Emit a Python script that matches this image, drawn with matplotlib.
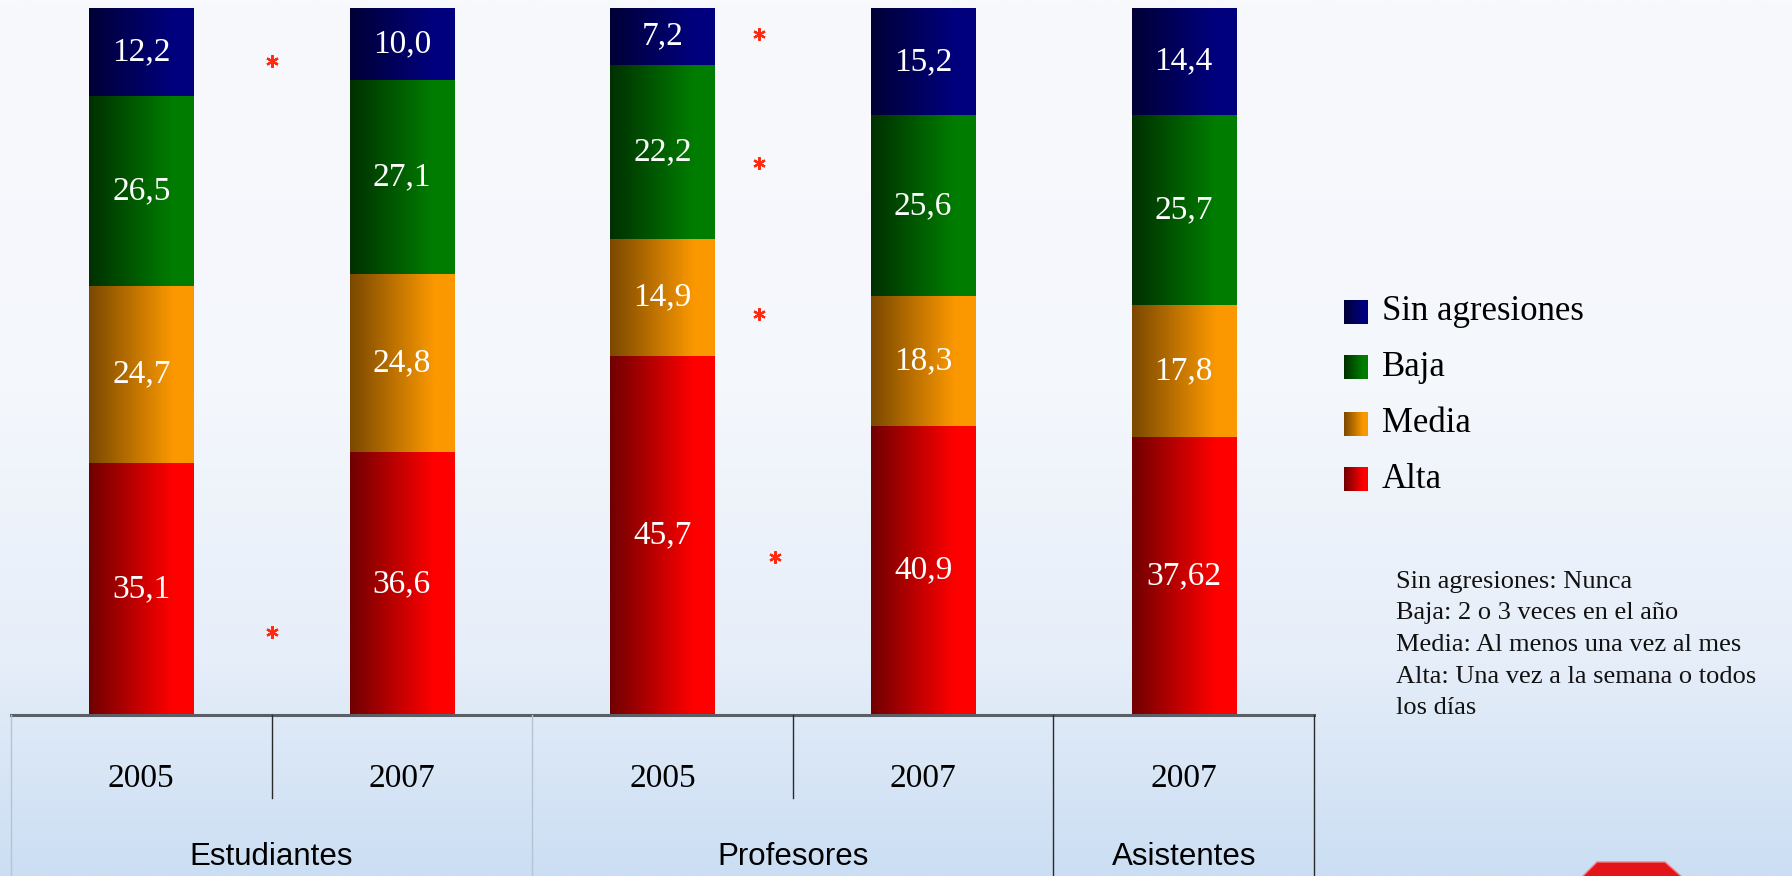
import numpy as np
import matplotlib
matplotlib.use("Agg")
import matplotlib.pyplot as plt
from matplotlib.colors import LinearSegmentedColormap
from matplotlib.patches import Polygon

# ---------------- data ----------------
groups = ["Estudiantes", "Profesores", "Asistentes"]
group_span = [(0, 1), (2, 3), (4, 4)]          # column indices of each group
years = ["2005", "2007", "2005", "2007", "2007"]
series = ["Sin agresiones", "Baja", "Media", "Alta"]
sin_agresiones = [12.2, 10.0, 7.2, 15.2, 14.4]
baja = [26.5, 27.1, 22.2, 25.6, 25.7]
media = [24.7, 24.8, 14.9, 18.3, 17.8]
alta = [35.1, 36.6, 45.7, 40.9, 37.62]
notes = ["Sin agresiones: Nunca",
         "Baja: 2 o 3 veces en el año",
         "Media: Al menos una vez al mes",
         "Alta: Una vez a la semana o todos",
         "los días"]
# significance markers (column position, percent height)
sig_x = [0.5, 0.5, 2.37, 2.37, 2.37, 2.43]
sig_y = [92.5, 11.7, 96.3, 78.1, 56.7, 22.3]

# ---------------- styles ----------------
dark = {"Sin agresiones": "#000036", "Baja": "#003000", "Media": "#7a4800", "Alta": "#700000"}
bright = {"Sin agresiones": "#00007e", "Baja": "#007d00", "Media": "#fb9800", "Alta": "#ff0000"}
SERIF = ["Liberation Serif", "DejaVu Serif"]
SANS = ["Liberation Sans", "DejaVu Sans"]

W, H = 1792, 876
fig = plt.figure(figsize=(W / 100, H / 100), dpi=100)

# background gradient
bg = fig.add_axes([0, 0, 1, 1], zorder=-10)
bg_cmap = LinearSegmentedColormap.from_list(
    "bg", [(0, "#f8f9fd"), (0.45, "#f4f7fc"), (0.75, "#e6eef9"), (1.0, "#cbdef3")])
bg.imshow(np.linspace(0, 1, 512).reshape(-1, 1), cmap=bg_cmap, aspect="auto",
          extent=[0, 1, 0, 1], origin="upper")
bg.set_xlim(0, 1); bg.set_ylim(0, 1); bg.axis("off")


def grad_cmap(name):
    return LinearSegmentedColormap.from_list(
        name, [(0, dark[name]), (0.8, bright[name]), (1, bright[name])])


gradient = np.linspace(0, 1, 256).reshape(1, -1)

# ---------------- main bars ----------------
left_px, right_px, top_px, base_px = 11, 1314, 8, 715
L = left_px / W
R = right_px / W
B = (H - base_px) / H
T = (H - top_px) / H
ax = fig.add_axes([L, B, R - L, T - B])
ax.patch.set_alpha(0)

raw = {"Sin agresiones": np.array(sin_agresiones), "Baja": np.array(baja),
       "Media": np.array(media), "Alta": np.array(alta)}
total = sum(raw.values())
x = np.arange(len(years))
bottom = np.zeros(len(years))
for name in ["Alta", "Media", "Baja", "Sin agresiones"]:
    vals = raw[name] / total * 100
    bars = ax.bar(x, vals, width=0.40, bottom=bottom, color=bright[name],
                  linewidth=0, zorder=2)
    cm = grad_cmap(name)
    for bar, v_raw in zip(bars, raw[name]):
        x0, y0 = bar.get_x(), bar.get_y()
        w, h = bar.get_width(), bar.get_height()
        ax.imshow(gradient, cmap=cm, aspect="auto", extent=[x0, x0 + w, y0, y0 + h],
                  interpolation="bilinear", zorder=3)
        txt = f"{v_raw:.2f}" if round(v_raw, 1) != v_raw else f"{v_raw:.1f}"
        ax.text(x0 + w / 2, y0 + h / 2, txt.replace(".", ","), ha="center", va="center",
                color="white", fontsize=24, family=SERIF, zorder=4)
    bottom += vals

ax.plot(sig_x, sig_y, linestyle="none", marker=(6, 2, 0), ms=9, mew=1.6,
        color="#ff2a10", zorder=4)
ax.set_xlim(-0.5, len(years) - 0.5)
ax.set_ylim(0, 100)
ax.axis("off")

# ---------------- category table ----------------
tb = fig.add_axes([L, 0, R - L, B])
tb.patch.set_alpha(0)
tb.set_xlim(-0.5, len(years) - 0.5)
tb.set_ylim(0, 1)
tb.axis("off")
tb.plot([-0.5, len(years) - 0.5], [1, 1], color="#5a5f66", lw=2.2, clip_on=False)
inner_y = (H - 798) / (H - base_px)
year_y = (H - 779) / (H - base_px)
group_y = (H - 857) / (H - base_px)
for i, yr in enumerate(years):
    tb.text(i, year_y, yr, ha="center", va="center", fontsize=24, family=SERIF, color="black")
for gi, (g, (a, b)) in enumerate(zip(groups, group_span)):
    tb.text((a + b) / 2, group_y, g, ha="center", va="center", fontsize=22.5,
            family=SANS, color="black")
    for k in range(a, b):
        tb.plot([k + 0.5, k + 0.5], [inner_y, 1], color="#2a2a2a", lw=1, clip_on=False)
    tb.plot([a - 0.5, a - 0.5], [0, 1], color="#b5c4d4" if gi < 2 else "#2a2a2a",
            lw=1, clip_on=False)
tb.plot([len(years) - 0.5] * 2, [0, 1], color="#2a2a2a", lw=1, clip_on=False)

# ---------------- legend + notes (pixel overlay) ----------------
ov = fig.add_axes([0, 0, 1, 1])
ov.patch.set_alpha(0)
ov.set_xlim(0, W); ov.set_ylim(H, 0); ov.axis("off")
leg_y = [312, 367, 424, 479]
for name, yc in zip(series, leg_y):
    ov.imshow(gradient, cmap=grad_cmap(name), aspect="auto",
              extent=[1344, 1368, yc + 12, yc - 12], interpolation="bilinear")
    ov.text(1382, yc, name, ha="left", va="center", fontsize=25, family=SERIF, color="black")
note_y = [582, 613, 645, 677, 708]
for line, yc in zip(notes, note_y):
    ov.text(1396, yc, line, ha="left", va="center", fontsize=19, family=SERIF, color="#111111")
ov.add_patch(Polygon([[1582, 877], [1597, 862], [1665, 862], [1682, 877]],
                     closed=True, facecolor="#e3151a", edgecolor="#f08080", lw=1))
ov.set_xlim(0, W); ov.set_ylim(H, 0)

fig.savefig("out.png", dpi=100)
